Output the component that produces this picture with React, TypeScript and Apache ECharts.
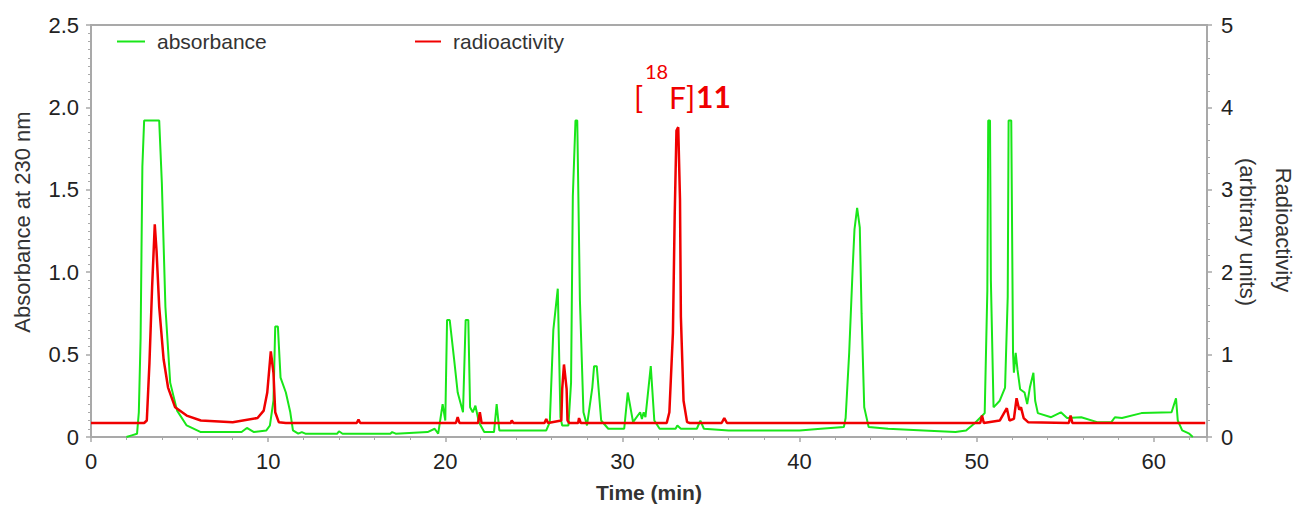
import React, { useEffect, useRef } from "react";
import * as echarts from "echarts";

const seriesNames = ["absorbance", "radioactivity"];
const xTickLabels = [0, 10, 20, 30, 40, 50, 60];
const leftTickLabels = [0, 0.5, 1.0, 1.5, 2.0, 2.5];
const rightTickLabels = [0, 1, 2, 3, 4, 5];

// Absorbance at 230 nm (left axis) vs time (min)
const absorbance: [number, number][] = [
  [2.0, 0], [2.3, 0.01], [2.6, 0.02], [2.7, 0.15], [2.8, 0.6], [2.9, 1.64], [3.0, 1.92], [3.85, 1.92],
  [4.0, 1.54], [4.2, 0.79], [4.47, 0.33], [4.86, 0.16], [5.4, 0.07], [6.2, 0.03], [8.5, 0.03],
  [8.8, 0.055], [9.2, 0.03], [9.9, 0.04], [10.1, 0.07], [10.3, 0.22], [10.4, 0.67], [10.55, 0.67],
  [10.7, 0.36], [11.0, 0.27], [11.25, 0.15], [11.4, 0.04], [11.7, 0.02], [11.9, 0.03], [12.1, 0.02],
  [13.9, 0.02], [14.0, 0.035], [14.2, 0.02], [16.9, 0.02], [17.0, 0.03], [17.2, 0.02], [19.0, 0.03],
  [19.4, 0.05], [19.6, 0.02], [19.85, 0.2], [20.0, 0.1], [20.1, 0.71], [20.25, 0.71], [20.5, 0.47],
  [20.7, 0.27], [21.0, 0.15], [21.15, 0.71], [21.3, 0.71], [21.4, 0.18], [21.55, 0.15], [21.7, 0.19],
  [21.9, 0.09], [22.2, 0.03], [22.75, 0.03], [22.9, 0.2], [23.05, 0.04], [25.7, 0.04], [25.9, 0.09],
  [26.1, 0.65], [26.35, 0.9], [26.5, 0.12], [26.6, 0.07], [26.95, 0.07], [27.1, 0.33], [27.2, 1.46],
  [27.35, 1.92], [27.45, 1.92], [27.6, 0.83], [27.8, 0.15], [28.0, 0.07], [28.3, 0.3], [28.4, 0.43],
  [28.55, 0.43], [28.8, 0.1], [29.2, 0.05], [30.1, 0.05], [30.3, 0.27], [30.6, 0.09], [31.0, 0.15],
  [31.1, 0.11], [31.2, 0.15], [31.3, 0.12], [31.6, 0.43], [31.8, 0.1], [32.1, 0.05], [33.0, 0.05],
  [33.1, 0.07], [33.3, 0.05], [34.2, 0.05], [34.4, 0.1], [34.6, 0.05], [36, 0.04], [40, 0.04],
  [41.2, 0.05], [42.5, 0.06], [42.6, 0.115], [42.8, 0.51], [43.0, 1.03], [43.1, 1.26], [43.25, 1.39],
  [43.4, 1.27], [43.5, 0.75], [43.65, 0.18], [43.9, 0.06], [45, 0.05], [47, 0.04], [48.8, 0.03],
  [49.4, 0.04], [49.9, 0.085], [50.45, 0.145], [50.6, 0.89], [50.65, 1.92], [50.75, 1.92], [50.8, 0.95],
  [50.95, 0.18], [51.3, 0.22], [51.6, 0.3], [51.75, 0.85], [51.8, 1.92], [51.95, 1.92], [52.05, 0.51],
  [52.1, 0.39], [52.2, 0.51], [52.3, 0.41], [52.45, 0.29], [52.7, 0.27], [52.85, 0.2], [53.0, 0.3],
  [53.2, 0.39], [53.3, 0.22], [53.45, 0.145], [54.2, 0.12], [54.75, 0.15], [55.1, 0.115], [55.9, 0.12],
  [56.8, 0.09], [57.6, 0.09], [57.8, 0.12], [58.2, 0.115], [59.3, 0.145], [61.0, 0.15], [61.25, 0.235],
  [61.35, 0.1], [61.6, 0.04], [62.0, 0.02], [62.2, 0],
];

// Radioactivity (arbitrary units, right axis) vs time (min)
const radioactivity: [number, number][] = [
  [0, 0.17], [3.0, 0.17], [3.15, 0.2], [3.3, 0.9], [3.45, 1.82], [3.6, 2.58], [3.7, 2.26], [3.85, 1.58],
  [4.1, 0.94], [4.35, 0.6], [4.75, 0.36], [5.4, 0.26], [6.2, 0.2], [8.0, 0.18], [9.4, 0.23],
  [9.75, 0.32], [9.95, 0.54], [10.15, 1.04], [10.3, 0.78], [10.4, 0.3], [10.6, 0.18], [11, 0.17],
  [15.0, 0.17], [15.1, 0.21], [15.2, 0.17], [20.6, 0.17], [20.7, 0.24], [20.8, 0.17], [21.85, 0.17],
  [21.95, 0.3], [22.05, 0.17], [23.7, 0.17], [23.75, 0.2], [23.85, 0.17], [25.6, 0.17], [25.7, 0.22],
  [25.8, 0.17], [26.55, 0.2], [26.6, 0.58], [26.7, 0.88], [26.85, 0.58], [26.9, 0.2], [27.0, 0.17],
  [27.5, 0.17], [27.55, 0.23], [27.65, 0.17], [32.5, 0.17], [32.65, 0.3], [32.85, 1.26], [32.95, 2.68],
  [33.05, 3.72], [33.15, 3.76], [33.25, 2.88], [33.3, 1.46], [33.45, 0.44], [33.65, 0.18], [33.8, 0.17],
  [35.6, 0.17], [35.75, 0.23], [35.9, 0.17], [50.2, 0.17], [50.3, 0.26], [50.4, 0.17], [51.3, 0.2],
  [51.7, 0.35], [51.85, 0.2], [52.1, 0.22], [52.25, 0.47], [52.4, 0.33], [52.5, 0.36], [52.65, 0.23],
  [52.9, 0.18], [55.2, 0.17], [55.3, 0.26], [55.4, 0.17], [62.9, 0.17],
];

const FONT = "'Liberation Sans', Arial, sans-serif";
const AXIS_GREY = "#a9a9a9";

export default function App() {
  const ref = useRef<HTMLDivElement>(null);
  useEffect(() => {
    if (!ref.current) return;
    const chart = echarts.init(ref.current, undefined, { renderer: "svg" });
    const axisCommon = {
      axisLine: { show: true, lineStyle: { color: AXIS_GREY, width: 2 } },
      axisTick: { show: true, length: 5, lineStyle: { color: AXIS_GREY, width: 1.5 } },
      minorTick: { show: true, length: 3, lineStyle: { color: AXIS_GREY, width: 1 } },
      splitLine: { show: false },
    };
    chart.setOption({
      animation: false,
      backgroundColor: "#fff",
      grid: { left: 91, right: 90, top: 25, bottom: 71, show: true, borderColor: AXIS_GREY, borderWidth: 2 },
      legend: [
        {
          data: [seriesNames[0]], left: 117, top: 31, padding: 0, icon: "rect", itemWidth: 28, itemHeight: 2,
          textStyle: { fontFamily: FONT, fontSize: 21, color: "#333", padding: [0, 0, 0, 7] },
        },
        {
          data: [seriesNames[1]], left: 415, top: 31, padding: 0, icon: "rect", itemWidth: 26, itemHeight: 2,
          textStyle: { fontFamily: FONT, fontSize: 21, color: "#333", padding: [0, 0, 0, 7] },
        },
      ],
      xAxis: {
        type: "value", min: 0, max: 63, interval: 10,
        ...axisCommon,
        minorTick: { show: true, splitNumber: 5, length: 3, lineStyle: { color: AXIS_GREY, width: 1 } },
        axisLabel: {
          fontFamily: FONT, fontSize: 22, color: "#222", margin: 13, showMaxLabel: false,
          formatter: (v: number) => (xTickLabels.includes(v) ? String(v) : ""),
        },
        name: "Time (min)", nameLocation: "middle", nameGap: 45,
        nameTextStyle: { fontFamily: FONT, fontSize: 21, fontWeight: "bold", color: "#333" },
      },
      yAxis: [
        {
          type: "value", min: 0, max: 2.5, interval: 0.5, position: "left",
          ...axisCommon,
          minorTick: { show: true, splitNumber: 10, length: 3, lineStyle: { color: AXIS_GREY, width: 1 } },
          axisLabel: {
            fontFamily: FONT, fontSize: 22, color: "#222", margin: 12,
            formatter: (v: number) => (leftTickLabels.includes(v) ? (v === 0 ? "0" : v.toFixed(1)) : ""),
          },
        },
        {
          type: "value", min: 0, max: 5, interval: 1, position: "right",
          ...axisCommon,
          minorTick: { show: true, splitNumber: 5, length: 3, lineStyle: { color: AXIS_GREY, width: 1 } },
          axisLabel: {
            fontFamily: FONT, fontSize: 22, color: "#222", margin: 14,
            formatter: (v: number) => (rightTickLabels.includes(v) ? String(v) : ""),
          },
        },
      ],
      graphic: [
        {
          type: "text", x: 22, y: 222, rotation: Math.PI / 2,
          style: { text: "Absorbance at 230 nm", font: `22px ${FONT}`, fill: "#333", align: "center", verticalAlign: "middle" },
        },
        {
          type: "text", x: 1283, y: 230, rotation: -Math.PI / 2,
          style: { text: "Radioactivity", font: `22px ${FONT}`, fill: "#333", align: "center", verticalAlign: "middle" },
        },
        {
          type: "text", x: 1247, y: 232, rotation: -Math.PI / 2,
          style: { text: "(arbitrary units)", font: `22px ${FONT}`, fill: "#333", align: "center", verticalAlign: "middle" },
        },
        {
          type: "text", x: 634, y: 97,
          style: { text: "[", font: `30px Lato, ${FONT}`, fill: "#f00000", align: "left", verticalAlign: "middle" },
        },
        {
          type: "text", x: 645, y: 71,
          style: { text: "18", font: `20px Lato, ${FONT}`, fill: "#f00000", align: "left", verticalAlign: "middle" },
        },
        {
          type: "text", x: 669, y: 97,
          style: { text: "F]", font: `30px Lato, ${FONT}`, fill: "#f00000", align: "left", verticalAlign: "middle" },
        },
        {
          type: "text", x: 696, y: 96,
          style: { text: "11", font: `bold 30px Lato, ${FONT}`, fill: "#f00000", align: "left", verticalAlign: "middle" },
        },
      ],
      series: [
        {
          name: seriesNames[0], type: "line", yAxisIndex: 0, data: absorbance, showSymbol: false,
          lineStyle: { color: "#19e619", width: 2 }, itemStyle: { color: "#19e619" },
        },
        {
          name: seriesNames[1], type: "line", yAxisIndex: 1, data: radioactivity, showSymbol: false,
          lineStyle: { color: "#f00000", width: 2.5 }, itemStyle: { color: "#f00000" }, z: 3,
        },
      ],
    });
    return () => chart.dispose();
  }, []);
  return <div ref={ref} style={{ position: "fixed", left: 0, top: 0, width: 1297, height: 508 }} />;
}
